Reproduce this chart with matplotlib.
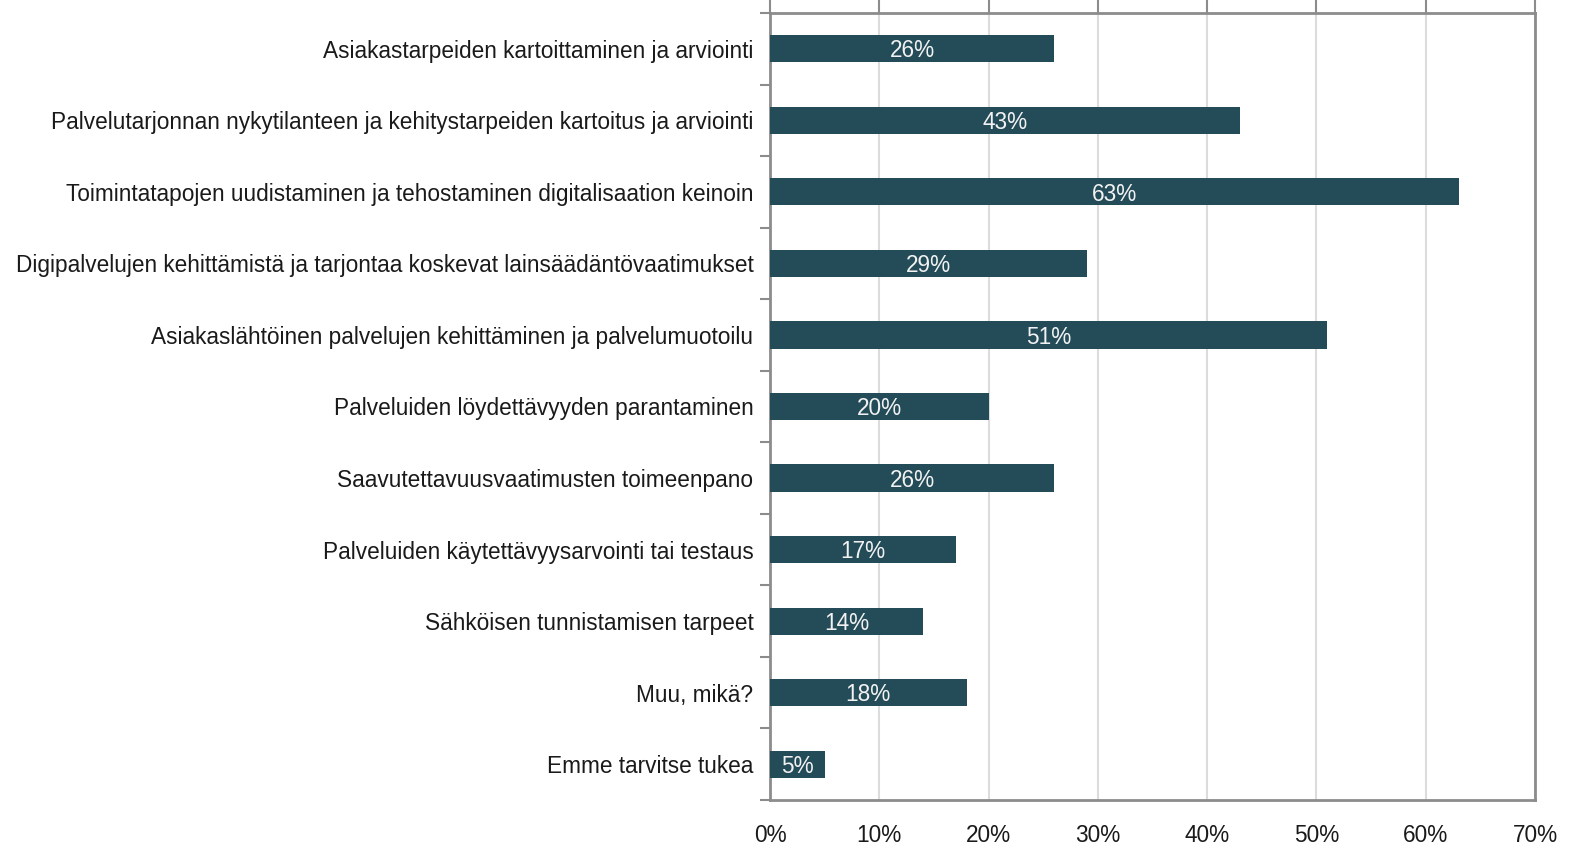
import numpy as np
import matplotlib
matplotlib.use("Agg")
import matplotlib.pyplot as plt
from matplotlib.ticker import FixedLocator

plt.rcParams['font.family'] = ['Liberation Sans', 'DejaVu Sans']

# kategoriat ylhäältä alas
categories = [
    "Asiakastarpeiden kartoittaminen ja arviointi",
    "Palvelutarjonnan nykytilanteen ja kehitystarpeiden kartoitus ja arviointi",
    "Toimintatapojen uudistaminen ja tehostaminen digitalisaation keinoin",
    "Digipalvelujen kehittämistä ja tarjontaa koskevat lainsäädäntövaatimukset",
    "Asiakaslähtöinen palvelujen kehittäminen ja palvelumuotoilu",
    "Palveluiden löydettävyyden parantaminen",
    "Saavutettavuusvaatimusten toimeenpano",
    "Palveluiden käytettävyysarvointi tai testaus",
    "Sähköisen tunnistamisen tarpeet",
    "Muu, mikä?",
    "Emme tarvitse tukea",
]
values = [26, 43, 63, 29, 51, 20, 26, 17, 14, 18, 5]
xticks = [0, 10, 20, 30, 40, 50, 60, 70]

bar_color = "#234b58"
spine_color = "#8c8c8c"
fs = 16.3

fig = plt.figure(figsize=(15.83, 8.48), dpi=100)
ax = fig.add_axes([770 / 1583, 1 - 800 / 848, (1535 - 770) / 1583, (800 - 13) / 848])

y = np.arange(len(categories))
ax.barh(y, values, height=0.38, color=bar_color, zorder=3)

for yi, v in zip(y, values):
    ax.text(v / 2, yi + 0.03, f"{v}%", ha="center", va="center", color="#f2f2f2",
            fontsize=fs, zorder=4)

ax.set_xlim(0, 70)
ax.set_ylim(len(categories) - 0.5, -0.5)

# x-akseli: viivat ylhäällä, tekstit alhaalla
ax.set_xticks(xticks)
ax.set_xticklabels([f"{t}%" for t in xticks], fontsize=fs)
ax.tick_params(axis="x", which="major", bottom=False, top=True, labelbottom=True,
               labeltop=False, direction="out", length=10, width=1.5,
               color=spine_color, pad=7, labelcolor="#1a1a1a")
ax.xaxis.grid(True, color="#dcdcdc", linewidth=1.5, zorder=0)

# y-akseli: kategoriat, viivat luokkien välissä
ax.set_yticks(y)
ax.set_yticklabels(categories, fontsize=fs)
ax.yaxis.set_minor_locator(FixedLocator(np.arange(-0.5, len(categories), 1)))
ax.tick_params(axis="y", which="major", length=0, pad=12, labelcolor="#1a1a1a")
ax.tick_params(axis="y", which="minor", length=7, width=1.5, color=spine_color)

for s in ax.spines.values():
    s.set_color(spine_color)
    s.set_linewidth(2)

fig.savefig("out.png", dpi=100)
